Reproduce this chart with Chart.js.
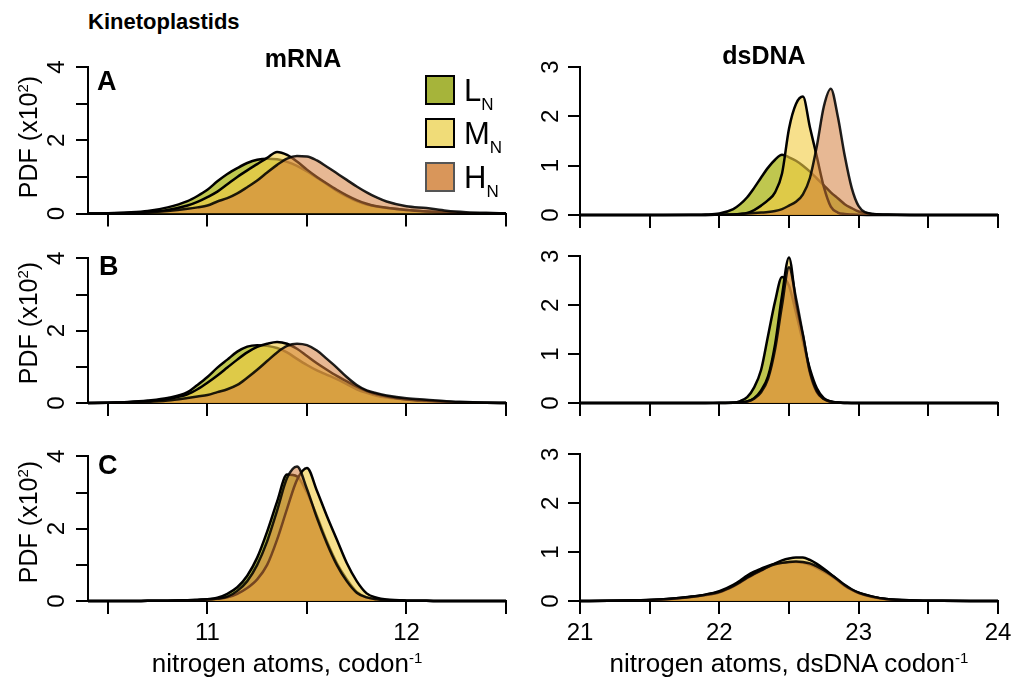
<!DOCTYPE html>
<html>
<head>
<meta charset="utf-8">
<script src="https://cdn.jsdelivr.net/npm/chart.js@4"></script>
<style>
  body { margin: 0; background: #fff; font-family: "Liberation Sans", Arial, sans-serif; }
  #wrap { position: relative; width: 1017px; height: 682px; overflow: hidden; }
  #wrap canvas { position: absolute; }
  .t { position: absolute; white-space: nowrap; color: #000; line-height: 1; z-index: 2; }
  .b { font-weight: bold; }
  .box { position: absolute; width: 26px; height: 26px; z-index: 2; }
  sub { font-size: 17px; vertical-align: -9px; }
  sup { font-size: 15px; vertical-align: 9px; }
</style>
</head>
<body>
<div id="wrap">
  <div class="t b" style="left:88px;top:11px;font-size:22px">Kinetoplastids</div>
  <div class="t b" style="left:303px;top:46px;font-size:25px;transform:translateX(-50%)">mRNA</div>
  <div class="t b" style="left:764px;top:43px;font-size:25px;transform:translateX(-50%)">dsDNA</div>

  <div class="t b" style="left:97px;top:68px;font-size:27px">A</div>
  <div class="t b" style="left:99px;top:253px;font-size:27px">B</div>
  <div class="t b" style="left:98px;top:452px;font-size:27px">C</div>

  <div class="t" style="left:28px;top:137px;font-size:25px;transform:translate(-50%,-50%) rotate(-90deg)">PDF (x10<sup>2</sup>)</div>
  <div class="t" style="left:28px;top:323px;font-size:25px;transform:translate(-50%,-50%) rotate(-90deg)">PDF (x10<sup>2</sup>)</div>
  <div class="t" style="left:28px;top:522px;font-size:25px;transform:translate(-50%,-50%) rotate(-90deg)">PDF (x10<sup>2</sup>)</div>

  <div class="t" style="left:287px;top:650px;font-size:26px;transform:translateX(-50%)">nitrogen atoms, codon<sup>-1</sup></div>
  <div class="t" style="left:789px;top:650px;font-size:26px;transform:translateX(-50%)">nitrogen atoms, dsDNA codon<sup>-1</sup></div>

  <div class="box" style="left:425px;top:75px;background:#a6b43a;border:2px solid #000"></div>
  <div class="box" style="left:425px;top:118px;background:#f0dc78;border:2px solid #000"></div>
  <div class="box" style="left:425px;top:162px;background:#d9965a;border:2px solid #555"></div>
  <div class="t" style="left:464px;top:75px;font-size:31px">L<sub>N</sub></div>
  <div class="t" style="left:464px;top:118px;font-size:31px">M<sub>N</sub></div>
  <div class="t" style="left:464px;top:162px;font-size:31px">H<sub>N</sub></div>

  <canvas id="mA"></canvas>
  <canvas id="mB"></canvas>
  <canvas id="mC"></canvas>
  <canvas id="dA"></canvas>
  <canvas id="dB"></canvas>
  <canvas id="dC"></canvas>
</div>

<script>
// x grids (nitrogen atoms per codon)
const xMrna = [10.4, 10.5, 10.6, 10.7, 10.8, 10.9, 10.95, 11.0, 11.05, 11.1, 11.15, 11.2, 11.25, 11.3, 11.35, 11.4,
  11.45, 11.5, 11.55, 11.6, 11.65, 11.7, 11.75, 11.8, 11.85, 11.9, 12.0, 12.1, 12.2, 12.3, 12.4, 12.5];
const xDna = [21.0, 21.2, 21.4, 21.6, 21.8, 21.9, 22.0, 22.1, 22.15, 22.2, 22.25, 22.3, 22.35, 22.4, 22.45, 22.5,
  22.55, 22.6, 22.65, 22.7, 22.75, 22.8, 22.85, 22.9, 22.95, 23.0, 23.1, 23.2, 23.4, 23.6, 23.8, 24.0];

// PDF (x10^2), mRNA panels
const mrnaA_L = [0, 0.01, 0.03, 0.07, 0.17, 0.34, 0.48, 0.65, 0.88, 1.08, 1.24, 1.38, 1.47, 1.5, 1.48, 1.41,
  1.3, 1.15, 0.98, 0.8, 0.62, 0.47, 0.34, 0.25, 0.19, 0.15, 0.1, 0.06, 0.03, 0.01, 0.005, 0];
const mrnaA_M = [0, 0.01, 0.02, 0.04, 0.1, 0.22, 0.32, 0.45, 0.6, 0.8, 1.0, 1.18, 1.35, 1.52, 1.68, 1.6,
  1.42, 1.2, 1.0, 0.82, 0.65, 0.5, 0.37, 0.27, 0.2, 0.16, 0.1, 0.06, 0.03, 0.01, 0.005, 0];
const mrnaA_H = [0, 0.005, 0.01, 0.03, 0.07, 0.13, 0.17, 0.22, 0.33, 0.42, 0.55, 0.72, 0.9, 1.12, 1.33, 1.5,
  1.57, 1.56, 1.45, 1.28, 1.1, 0.92, 0.74, 0.58, 0.44, 0.33, 0.2, 0.15, 0.08, 0.04, 0.02, 0.01];

const mrnaB_L = [0, 0.01, 0.03, 0.07, 0.14, 0.3, 0.5, 0.72, 0.98, 1.2, 1.42, 1.56, 1.6, 1.58, 1.52, 1.4,
  1.22, 1.05, 0.9, 0.78, 0.66, 0.52, 0.38, 0.28, 0.2, 0.15, 0.09, 0.05, 0.03, 0.015, 0.005, 0];
const mrnaB_M = [0, 0.01, 0.02, 0.05, 0.11, 0.24, 0.38, 0.56, 0.76, 0.98, 1.2, 1.4, 1.55, 1.64, 1.69, 1.64,
  1.5, 1.3, 1.1, 0.92, 0.75, 0.6, 0.45, 0.33, 0.24, 0.18, 0.1, 0.06, 0.03, 0.015, 0.005, 0];
const mrnaB_H = [0, 0.005, 0.01, 0.03, 0.07, 0.14, 0.18, 0.22, 0.3, 0.38, 0.5, 0.7, 0.92, 1.16, 1.4, 1.58,
  1.64, 1.6, 1.45, 1.22, 0.98, 0.72, 0.5, 0.35, 0.27, 0.21, 0.13, 0.09, 0.05, 0.03, 0.01, 0.005];

const mrnaC_L = [0, 0, 0, 0.005, 0.01, 0.02, 0.03, 0.05, 0.09, 0.2, 0.38, 0.7, 1.2, 1.92, 2.75, 3.5,
  3.45, 3.0, 2.35, 1.65, 1.05, 0.6, 0.25, 0.1, 0.05, 0.025, 0.01, 0.005, 0, 0, 0, 0];
const mrnaC_M = [0, 0, 0, 0.005, 0.01, 0.02, 0.03, 0.04, 0.06, 0.1, 0.2, 0.36, 0.6, 1.0, 1.7, 2.55,
  3.35, 3.68, 3.05, 2.35, 1.7, 1.05, 0.55, 0.21, 0.09, 0.04, 0.01, 0.005, 0, 0, 0, 0];
const mrnaC_H = [0, 0, 0, 0.005, 0.01, 0.02, 0.03, 0.04, 0.07, 0.12, 0.28, 0.55, 1.0, 1.65, 2.5, 3.4,
  3.72, 3.1, 2.3, 1.6, 1.0, 0.55, 0.23, 0.1, 0.05, 0.02, 0.01, 0.005, 0, 0, 0, 0];

// PDF (x10^2), dsDNA panels
const dnaA_L = [0, 0, 0, 0, 0.005, 0.01, 0.03, 0.12, 0.22, 0.36, 0.55, 0.76, 0.96, 1.12, 1.22, 1.17,
  1.1, 1.0, 0.88, 0.74, 0.6, 0.46, 0.34, 0.22, 0.14, 0.07, 0.02, 0.01, 0, 0, 0, 0];
const dnaA_M = [0, 0, 0, 0, 0, 0, 0.005, 0.01, 0.02, 0.04, 0.1, 0.19, 0.3, 0.46, 0.84, 1.75,
  2.25, 2.4, 1.78, 1.18, 0.57, 0.17, 0.05, 0.02, 0.01, 0.005, 0, 0, 0, 0, 0, 0];
const dnaA_H = [0, 0, 0, 0, 0, 0, 0.005, 0.01, 0.02, 0.03, 0.04, 0.05, 0.06, 0.08, 0.12, 0.19,
  0.27, 0.42, 0.75, 1.4, 2.2, 2.56, 2.0, 1.2, 0.55, 0.18, 0.02, 0.005, 0, 0, 0, 0];

const dnaB_L = [0, 0, 0, 0, 0, 0, 0.005, 0.01, 0.04, 0.12, 0.32, 0.68, 1.38, 2.08, 2.58, 2.4,
  1.85, 1.25, 0.7, 0.3, 0.1, 0.03, 0.01, 0.005, 0, 0, 0, 0, 0, 0, 0, 0];
const dnaB_M = [0, 0, 0, 0, 0, 0, 0, 0.005, 0.01, 0.03, 0.1, 0.26, 0.55, 1.2, 2.2, 2.98,
  2.05, 1.38, 0.62, 0.22, 0.08, 0.02, 0.01, 0, 0, 0, 0, 0, 0, 0, 0, 0];
const dnaB_H = [0, 0, 0, 0, 0, 0, 0, 0.005, 0.01, 0.03, 0.09, 0.22, 0.5, 1.1, 2.0, 2.78,
  2.15, 1.4, 0.65, 0.24, 0.08, 0.03, 0.01, 0, 0, 0, 0, 0, 0, 0, 0, 0];

const dnaC_L = [0, 0.005, 0.015, 0.035, 0.09, 0.13, 0.2, 0.33, 0.42, 0.52, 0.6, 0.66, 0.72, 0.76, 0.78, 0.8,
  0.8, 0.78, 0.74, 0.68, 0.6, 0.52, 0.42, 0.31, 0.23, 0.17, 0.09, 0.04, 0.01, 0.003, 0, 0];
const dnaC_M = [0, 0.003, 0.01, 0.03, 0.08, 0.12, 0.18, 0.3, 0.38, 0.47, 0.55, 0.62, 0.7, 0.77, 0.83, 0.87,
  0.89, 0.89, 0.84, 0.76, 0.66, 0.55, 0.43, 0.32, 0.23, 0.16, 0.08, 0.035, 0.01, 0.003, 0, 0];
const dnaC_H = [0, 0.005, 0.015, 0.035, 0.085, 0.13, 0.19, 0.31, 0.39, 0.48, 0.56, 0.63, 0.7, 0.75, 0.78, 0.8,
  0.81, 0.8, 0.77, 0.71, 0.63, 0.54, 0.44, 0.33, 0.24, 0.17, 0.09, 0.04, 0.012, 0.004, 0, 0];

const seriesNames = ["LN", "MN", "HN"];
const fillColors = ["rgba(170,180,20,0.75)", "rgba(242,205,70,0.62)", "rgba(212,125,60,0.55)"];
const lineColors = ["#000", "#000", "rgba(0,0,0,0.88)"];

// ticks
const mrnaXTicks = [10.5, 11, 11.5, 12, 12.5];
const mrnaXLabels = ["", "11", "", "12", ""];
const dnaXTicks = [21, 21.5, 22, 22.5, 23, 23.5, 24];
const dnaXLabels = ["21", "", "22", "", "23", "", "24"];
const mrnaYTicks = [0, 1, 2, 3, 4];
const mrnaYLabels = ["0", "", "2", "", "4"];
const dnaYTicks = [0, 1, 2, 3];
const dnaYLabels = ["0", "1", "2", "3"];

const font = { family: "Liberation Sans", size: 24 };

function panel(id, rect, area, xs, series, xr, xTicks, xLabels, yMax, yTicks, yLabels, showX, yPad) {
  const cv = document.getElementById(id);
  cv.width = rect.w; cv.height = rect.h;
  cv.style.left = rect.left + "px"; cv.style.top = rect.top + "px";
  new Chart(cv, {
    type: "line",
    data: {
      datasets: series.map((ys, i) => ({
        label: seriesNames[i],
        data: xs.map((x, j) => ({ x: x, y: ys[j] })),
        fill: "origin",
        backgroundColor: fillColors[i],
        borderColor: lineColors[i],
        borderWidth: 2.5,
        pointRadius: 0,
        cubicInterpolationMode: "monotone",
        clip: false,
        order: 3 - i
      }))
    },
    options: {
      responsive: false,
      animation: false,
      devicePixelRatio: 1,
      layout: { padding: { left: 0, bottom: 0, top: area.top - rect.top, right: rect.left + rect.w - area.right } },
      plugins: { legend: { display: false }, tooltip: { enabled: false } },
      scales: {
        x: {
          type: "linear", min: xr[0], max: xr[1],
          afterBuildTicks: s => { s.ticks = xTicks.map(v => ({ value: v })); },
          afterFit: s => { s.height = rect.top + rect.h - area.bottom; },
          grid: { drawOnChartArea: false, drawTicks: true, tickLength: 13, color: "#000", lineWidth: 2 },
          border: { display: true, color: "#000", width: 2 },
          ticks: { display: showX, autoSkip: false, maxRotation: 0, padding: 5, color: "#000", font: font,
            callback: (v, i) => xLabels[i] }
        },
        y: {
          type: "linear", min: 0, max: yMax,
          afterBuildTicks: s => { s.ticks = yTicks.map(v => ({ value: v })); },
          afterFit: s => { s.width = area.left - rect.left; },
          grid: { drawOnChartArea: false, drawTicks: true, tickLength: 12, color: "#000", lineWidth: 2 },
          border: { display: true, color: "#000", width: 2 },
          ticks: { autoSkip: false, minRotation: 90, maxRotation: 90, crossAlign: "center", padding: yPad,
            color: "#000", font: font, callback: (v, i) => yLabels[i] }
        }
      }
    }
  });
}

const colL = { left: 20, w: 500 }, colR = { left: 520, w: 497 };
const rowA = { top: 40, h: 200, at: 67, ab: 215 };
const rowB = { top: 232, h: 198, at: 254, ab: 403 };
const rowC = { top: 430, h: 245, at: 453, ab: 601 };

function r(c, row) { return { left: c.left, w: c.w, top: row.top, h: row.h }; }
function aL(row) { return { left: 88, right: 506, top: row.at, bottom: row.ab }; }
function aR(row) { return { left: 580, right: 998, top: row.at, bottom: row.ab }; }

panel("mA", r(colL, rowA), aL(rowA), xMrna, [mrnaA_L, mrnaA_M, mrnaA_H], [10.4, 12.5], mrnaXTicks, mrnaXLabels, 4, mrnaYTicks, mrnaYLabels, false, 12);
panel("mB", r(colL, rowB), aL(rowB), xMrna, [mrnaB_L, mrnaB_M, mrnaB_H], [10.4, 12.5], mrnaXTicks, mrnaXLabels, 4, mrnaYTicks, mrnaYLabels, false, 12);
panel("mC", r(colL, rowC), aL(rowC), xMrna, [mrnaC_L, mrnaC_M, mrnaC_H], [10.4, 12.5], mrnaXTicks, mrnaXLabels, 4, mrnaYTicks, mrnaYLabels, true, 12);
panel("dA", r(colR, rowA), aR(rowA), xDna, [dnaA_L, dnaA_M, dnaA_H], [21, 24], dnaXTicks, dnaXLabels, 3, dnaYTicks, dnaYLabels, false, 10);
panel("dB", r(colR, rowB), aR(rowB), xDna, [dnaB_L, dnaB_M, dnaB_H], [21, 24], dnaXTicks, dnaXLabels, 3, dnaYTicks, dnaYLabels, false, 10);
panel("dC", r(colR, rowC), aR(rowC), xDna, [dnaC_L, dnaC_M, dnaC_H], [21, 24], dnaXTicks, dnaXLabels, 3, dnaYTicks, dnaYLabels, true, 10);
</script>
</body>
</html>
